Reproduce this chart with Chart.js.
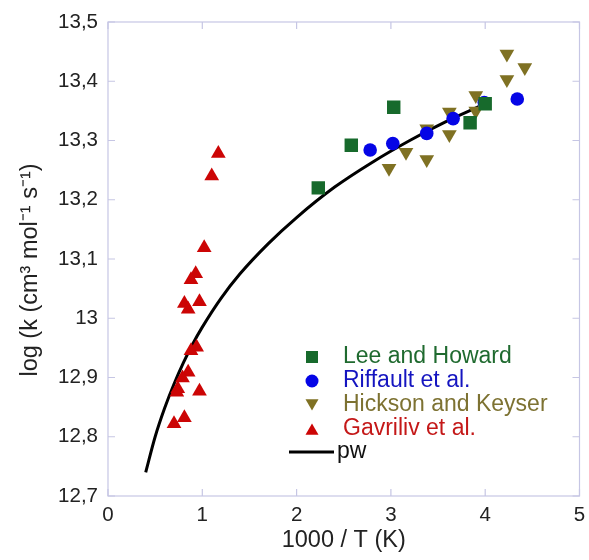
<!DOCTYPE html>
<html>
<head>
<meta charset="utf-8">
<script src="https://cdn.jsdelivr.net/npm/chart.js@4/dist/chart.umd.min.js"></script>
<style>
  html, body { margin: 0; padding: 0; background: #fff; }
  #wrap { width: 589px; height: 560px; position: relative; }
</style>
</head>
<body>
<div id="wrap"><canvas id="rateChart" width="589" height="560"></canvas></div>
<script>
// measured rate constants, x = 1000/T, y = log k
const leeX = [2.23, 2.58, 3.03, 3.84, 4.00];
const leeY = [13.220, 13.292, 13.356, 13.330, 13.362];

const riffaultX = [2.78, 3.02, 3.38, 3.66, 3.99, 4.34];
const riffaultY = [13.284, 13.295, 13.312, 13.337, 13.364, 13.370];

const hicksonX = [2.98, 3.16, 3.38, 3.38, 3.62, 3.62, 3.90, 3.90, 4.23, 4.23, 4.42];
const hicksonY = [13.253, 13.280, 13.268, 13.320, 13.310, 13.348, 13.350, 13.376, 13.403, 13.446, 13.423];

const gavrilivX = [1.17, 1.10, 1.02, 0.93, 0.88, 0.81, 0.97, 0.85, 0.94, 0.88, 0.85, 0.79, 0.74, 0.73, 0.97, 0.81, 0.70];
const gavrilivY = [13.278, 13.240, 13.119, 13.075, 13.065, 13.025, 13.028, 13.015, 12.951, 12.945, 12.909, 12.899, 12.881, 12.875, 12.877, 12.832, 12.822];

// present work fit
const pwX = [0.40, 0.50, 0.60, 0.70, 0.80, 0.90, 1.00, 1.20, 1.40, 1.70, 2.00, 2.40, 2.80, 3.20, 3.60, 3.93];
const pwY = [12.740, 12.800, 12.848, 12.889, 12.925, 12.957, 12.985, 13.034, 13.075, 13.126, 13.170, 13.221, 13.263, 13.300, 13.333, 13.357];

const xTicks = [0, 1, 2, 3, 4, 5];
const yTicks = [12.7, 12.8, 12.9, 13.0, 13.1, 13.2, 13.3, 13.4, 13.5];

const FONT = '"Liberation Sans", Arial, sans-serif';
const FRAME = '#c6c6e4';

function pts(xs, ys) {
  return xs.map((x, i) => ({ x: x, y: ys[i] }));
}

// frame on all four sides with inward ticks, plus axis titles
const framePlugin = {
  id: 'frame',
  afterDatasetsDraw(chart) {
    const { ctx, chartArea: a, scales } = chart;
    const len = 7;
    ctx.save();
    ctx.strokeStyle = FRAME;
    ctx.lineWidth = 1.2;
    ctx.strokeRect(a.left, a.top, a.right - a.left, a.bottom - a.top);
    ctx.beginPath();
    xTicks.forEach(v => {
      const px = scales.x.getPixelForValue(v);
      ctx.moveTo(px, a.bottom); ctx.lineTo(px, a.bottom - len);
      ctx.moveTo(px, a.top); ctx.lineTo(px, a.top + len);
    });
    yTicks.forEach(v => {
      const py = scales.y.getPixelForValue(v);
      ctx.moveTo(a.left, py); ctx.lineTo(a.left + len, py);
      ctx.moveTo(a.right, py); ctx.lineTo(a.right - len, py);
    });
    ctx.stroke();

    ctx.fillStyle = '#222';
    ctx.font = '23.5px ' + FONT;
    ctx.textAlign = 'center';
    ctx.textBaseline = 'middle';
    ctx.fillText('1000 / T (K)', (a.left + a.right) / 2, 541);
    ctx.translate(31, 270);
    ctx.rotate(-Math.PI / 2);
    ctx.fillText('log (k (cm\u00B3 mol\u207B\u00B9 s\u207B\u00B9)', 0, 0);
    ctx.restore();
  }
};

// legend in the lower right of the plot
const legendPlugin = {
  id: 'insideLegend',
  afterDatasetsDraw(chart) {
    const { ctx, chartArea: a } = chart;
    const mx = a.left + 204;
    const tx = a.left + 235;
    let y = 357;
    ctx.save();
    ctx.font = '23px ' + FONT;
    ctx.textBaseline = 'middle';
    ctx.textAlign = 'left';
    chart.data.datasets.forEach(ds => {
      if (ds.showLine) {
        y -= 1;
        ctx.strokeStyle = ds.borderColor;
        ctx.lineWidth = 3;
        ctx.beginPath();
        ctx.moveTo(a.left + 181, y);
        ctx.lineTo(a.left + 226, y);
        ctx.stroke();
        ctx.fillStyle = '#111';
        ctx.fillText(ds.label, a.left + 229, y);
        return;
      }
      const r = ds.legendRadius;
      const dy = ds.pointStyle === 'triangle' ? (ds.rotation ? -2 : 2) : 0;
      ctx.fillStyle = ds.backgroundColor;
      Chart.helpers.drawPoint(ctx, { pointStyle: ds.pointStyle, rotation: ds.rotation || 0, radius: r, borderWidth: 0 }, mx, y + dy);
      ctx.fillStyle = ds.textColor;
      ctx.fillText(ds.label, tx, y);
      y += 24;
    });
    ctx.restore();
  }
};

new Chart(document.getElementById('rateChart'), {
  type: 'scatter',
  data: {
    datasets: [
      {
        label: 'Lee and Howard',
        data: pts(leeX, leeY),
        pointStyle: 'rect',
        pointRadius: 9.5,
        backgroundColor: '#176a2c',
        borderWidth: 0,
        textColor: '#1f6a2f',
        legendRadius: 8.5
      },
      {
        label: 'Riffault et al.',
        data: pts(riffaultX, riffaultY),
        pointStyle: 'circle',
        pointRadius: 6.8,
        backgroundColor: '#0505e6',
        borderWidth: 0,
        textColor: '#1515c0',
        legendRadius: 6.5
      },
      {
        label: 'Hickson and Keyser',
        data: pts(hicksonX, hicksonY),
        pointStyle: 'triangle',
        rotation: 180,
        pointRadius: 8.5,
        backgroundColor: '#7f7123',
        borderWidth: 0,
        textColor: '#7d7232',
        legendRadius: 7.5
      },
      {
        label: 'Gavriliv et al.',
        data: pts(gavrilivX, gavrilivY),
        pointStyle: 'triangle',
        pointRadius: 8.5,
        backgroundColor: '#cc0505',
        borderWidth: 0,
        textColor: '#c41818',
        legendRadius: 7.5
      },
      {
        label: 'pw',
        type: 'line',
        data: pts(pwX, pwY),
        showLine: true,
        borderColor: '#000',
        borderWidth: 3,
        pointRadius: 0,
        fill: false,
        cubicInterpolationMode: 'monotone'
      }
    ]
  },
  options: {
    responsive: false,
    animation: false,
    layout: { padding: { top: 22, right: 8, left: 0, bottom: 0 } },
    plugins: { legend: { display: false }, tooltip: { enabled: false } },
    scales: {
      x: {
        type: 'linear',
        min: 0,
        max: 5,
        afterFit(scale) {
          scale.height = 64;
          scale.paddingLeft = 0;
          scale.paddingRight = 0;
        },
        afterBuildTicks(scale) { scale.ticks = xTicks.map(v => ({ value: v })); },
        grid: { display: false, drawTicks: false },
        border: { display: false },
        ticks: {
          padding: 7,
          color: '#222',
          font: { family: FONT, size: 20.5 },
          callback: v => String(v)
        }
      },
      y: {
        type: 'linear',
        min: 12.7,
        max: 13.5,
        afterFit(scale) {
          scale.width = 108;
          scale.paddingTop = 0;
          scale.paddingBottom = 0;
        },
        afterBuildTicks(scale) { scale.ticks = yTicks.map(v => ({ value: v })); },
        grid: { display: false, drawTicks: false },
        border: { display: false },
        ticks: {
          padding: 10,
          color: '#222',
          font: { family: FONT, size: 20.5 },
          callback: v => (Math.round(v * 10) / 10).toString().replace('.', ',')
        }
      }
    }
  },
  plugins: [framePlugin, legendPlugin]
});
</script>
</body>
</html>
